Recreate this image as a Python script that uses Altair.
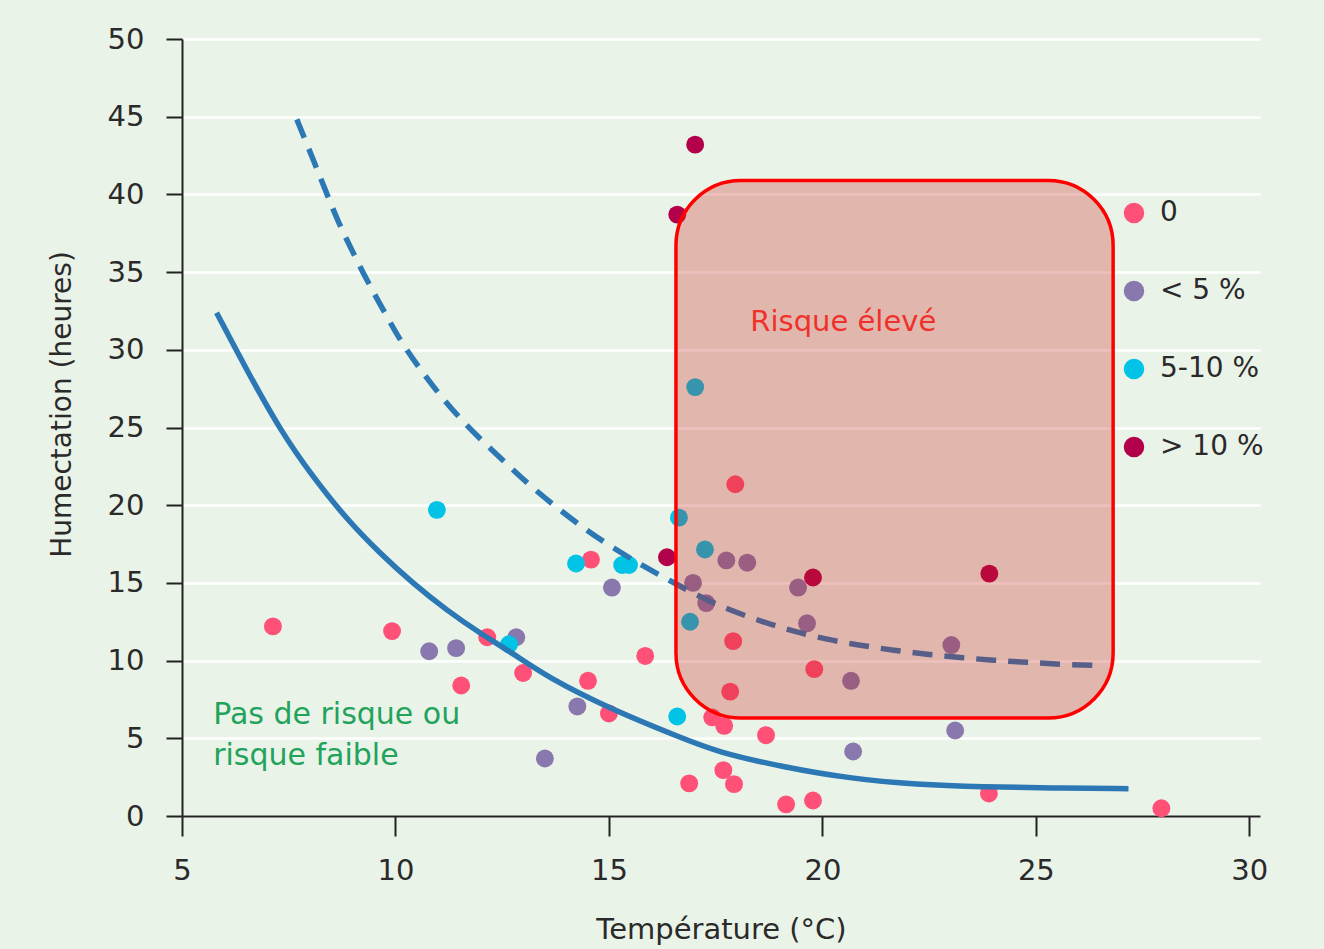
import altair as alt
import pandas as pd

# Observations: temperature (°C) and wetness duration (hours), grouped by damage class
cat_labels = ["0", "< 5 %", "5-10 %", "> 10 %"]
cat_colors = ["#ff5077", "#8878ae", "#00c3e6", "#b3004b"]

t_zero = [7.13, 9.92, 11.54, 12.15, 12.99, 14.51, 14.58, 15.0, 15.85, 16.88, 17.42, 17.70,
          17.68, 17.93, 18.68, 19.15, 19.78, 23.9, 27.94, 17.96, 17.91, 17.84, 19.81]
h_zero = [12.2, 11.9, 8.4, 11.5, 9.2, 8.7, 16.5, 6.6, 10.3, 2.1, 6.35, 5.8,
          2.95, 2.05, 5.2, 0.75, 1.0, 1.45, 0.5, 21.35, 11.25, 8.0, 9.45]

t_lt5 = [10.79, 11.42, 12.83, 13.5, 14.26, 15.07, 20.72, 23.11, 16.97, 17.28, 17.75, 18.24,
         19.43, 19.64, 20.67, 23.02]
h_lt5 = [10.6, 10.8, 11.5, 3.7, 7.05, 14.7, 4.15, 5.5, 15.0, 13.7, 16.45, 16.3,
         14.7, 12.4, 8.7, 11.0]

t_5_10 = [10.97, 12.66, 14.23, 15.31, 15.47, 16.60, 17.02, 16.64, 17.25, 16.90]
h_5_10 = [19.7, 11.05, 16.25, 16.15, 16.15, 6.4, 27.6, 19.2, 17.15, 12.5]

t_gt10 = [17.02, 16.60, 16.36, 19.78, 23.91]
h_gt10 = [43.2, 38.7, 16.65, 15.35, 15.6]

# Lower threshold curve (solid)
low_t = [5.81, 6.52, 7.30, 8.07, 8.86, 9.64, 10.41, 11.20, 11.98, 12.75, 13.55, 15.10,
         16.67, 17.53, 19.08, 20.65, 22.21, 23.77, 25.34, 27.17]
low_h = [32.39, 28.68, 24.82, 21.80, 19.09, 16.90, 14.97, 13.24, 11.76, 10.47, 8.94, 6.80,
         5.06, 4.12, 3.15, 2.41, 2.02, 1.87, 1.80, 1.76]

# Upper threshold curve (dashed)
high_t = [7.69, 8.08, 8.39, 8.66, 8.98, 9.33, 9.72, 10.11, 10.54, 11.01, 11.55, 12.10,
          12.68, 13.23, 13.86, 14.48, 15.11, 15.81, 16.43, 17.14, 17.84, 18.61, 19.32,
          20.12, 20.89, 21.67, 22.45, 23.23, 24.01, 24.79, 25.57, 26.58]
high_h = [44.83, 42.19, 40.05, 38.22, 36.40, 34.47, 32.54, 30.59, 28.89, 27.18, 25.46, 23.96,
          22.46, 21.07, 19.67, 18.38, 17.23, 16.07, 15.14, 14.09, 13.24, 12.48, 11.89,
          11.35, 10.98, 10.66, 10.41, 10.19, 10.02, 9.89, 9.76, 9.67]

# High-risk zone
risk_t = [16.57, 26.81]
risk_h = [6.3, 40.9]

x_ticks = [5, 10, 15, 20, 25, 30]
y_ticks = [0, 5, 10, 15, 20, 25, 30, 35, 40, 45, 50]

FONT = "DejaVu Sans"
BG = "#eaf3e8"

rows = []
for lab, ts, hs in zip(cat_labels, [t_zero, t_lt5, t_5_10, t_gt10], [h_zero, h_lt5, h_5_10, h_gt10]):
    for t, h in zip(ts, hs):
        rows.append({"t": t, "h": h, "cat": lab})
pts = pd.DataFrame(rows)

x_scale = alt.Scale(domain=[5, 30.25], nice=False, zero=False)
y_scale = alt.Scale(domain=[0, 50], nice=False, zero=False)

x_axis = alt.Axis(values=x_ticks, title="Température (°C)", grid=False, tickSize=20,
                  labelPadding=20, titlePadding=30, labelFontSize=29, titleFontSize=29,
                  labelFlush=False)
y_axis = alt.Axis(values=y_ticks, title="Humectation (heures)", grid=True, gridColor="white",
                  gridWidth=2.5, tickSize=16, labelPadding=22, labelFontSize=29,
                  titleFontSize=28, titleX=-106, titleY=365, labelFlush=False)

points = alt.Chart(pts).mark_circle(size=320, opacity=1).encode(
    x=alt.X("t:Q", scale=x_scale, axis=x_axis),
    y=alt.Y("h:Q", scale=y_scale, axis=y_axis),
    color=alt.Color("cat:N", scale=alt.Scale(domain=cat_labels, range=cat_colors),
                    legend=alt.Legend(title=None, orient="none", legendX=938, legendY=160,
                                      symbolType="circle", symbolSize=420, symbolOpacity=1,
                                      symbolStrokeWidth=0, labelFontSize=28, labelOffset=12,
                                      rowPadding=50, labelColor="#2a2a2a", padding=0)),
)

low_df = pd.DataFrame({"t": low_t, "h": low_h})
high_df = pd.DataFrame({"t": high_t, "h": high_h})

low_line = alt.Chart(low_df).mark_line(color="#2b78b4", strokeWidth=5.5, interpolate="basis").encode(
    x=alt.X("t:Q", scale=x_scale), y=alt.Y("h:Q", scale=y_scale))
high_line = alt.Chart(high_df).mark_line(color="#2b78b4", strokeWidth=5.5, strokeDash=[20, 12],
                                         interpolate="basis").encode(
    x=alt.X("t:Q", scale=x_scale), y=alt.Y("h:Q", scale=y_scale))

zone_df = pd.DataFrame({"t1": [risk_t[0]], "t2": [risk_t[1]], "h1": [risk_h[0]], "h2": [risk_h[1]]})
zone = alt.Chart(zone_df).mark_rect(cornerRadius=65, stroke="#ff0000", strokeWidth=3.5,
                                     fill="#c81e14", fillOpacity=0.28).encode(
    x=alt.X("t1:Q", scale=x_scale), x2="t2:Q",
    y=alt.Y("h1:Q", scale=y_scale), y2="h2:Q")

risk_df = pd.DataFrame({"t": [20.49], "h": [31.8], "label": ["Risque élevé"]})
risk_text = alt.Chart(risk_df).mark_text(color="#f0302a", fontSize=29, font=FONT, align="center",
                                          baseline="middle").encode(
    x=alt.X("t:Q", scale=x_scale), y=alt.Y("h:Q", scale=y_scale), text="label:N")

low_df_txt = pd.DataFrame({"t": [5.73, 5.73], "h": [6.5, 3.85],
                           "label": ["Pas de risque ou", "risque faible"]})
low_text = alt.Chart(low_df_txt).mark_text(color="#22a35c", fontSize=30, font=FONT, align="left",
                                            baseline="middle").encode(
    x=alt.X("t:Q", scale=x_scale), y=alt.Y("h:Q", scale=y_scale), text="label:N")

chart = alt.layer(points, low_line, high_line, zone, risk_text, low_text).properties(
    width=1078, height=777,
    autosize=alt.AutoSizeParams(type="none"),
    padding={"left": 182, "top": 39, "right": 64, "bottom": 133},
    background=BG,
).configure_view(stroke=None).configure_axis(
    labelFont=FONT, titleFont=FONT, labelColor="#2a2a2a", titleColor="#2a2a2a",
    titleFontWeight="normal", domainColor="#222222", domainWidth=2, tickColor="#222222",
    tickWidth=2,
).configure_legend(labelFont=FONT)

chart.save("out.html", embed_options={"renderer": "svg", "actions": False})
